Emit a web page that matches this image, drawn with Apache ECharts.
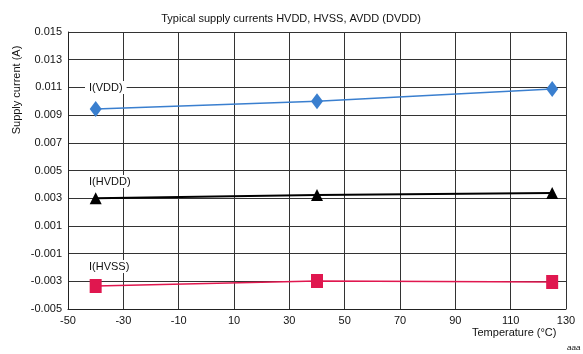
<!DOCTYPE html>
<html><head><meta charset="utf-8">
<script src="https://cdn.jsdelivr.net/npm/echarts@6/dist/echarts.min.js"></script>
<style>html,body{margin:0;padding:0;background:#fff}#c{width:583px;height:354px}</style>
</head><body><div id="c"></div>
<script>
const temps = [-40, 40, 125];
const iVDD = [0.00944, 0.0100, 0.01088];
const iHVDD = [0.0030, 0.00323, 0.00338];
const iHVSS = [-0.00334, -0.00298, -0.00305];
const font = 'Liberation Sans, Arial, sans-serif';
const pair = a => a.map((v,i)=>[temps[i], v]);
const chart = echarts.init(document.getElementById('c'));
chart.setOption({
  animation:false,
  title:{text:'Typical supply currents HVDD, HVSS, AVDD (DVDD)',left:286,top:8,textAlign:'center',
    textStyle:{fontFamily:font,fontSize:11,fontWeight:'normal',color:'#111'}},
  grid:{left:68,right:17,top:32,bottom:45},
  xAxis:{type:'value',min:-50,max:130,interval:20,
    axisLine:{onZero:false,lineStyle:{color:'#222'}},axisTick:{show:false},
    axisLabel:{fontFamily:font,fontSize:11,color:'#111',margin:6},
    splitLine:{lineStyle:{color:'#333',width:1}}},
  yAxis:{type:'value',min:-0.005,max:0.015,interval:0.002,
    axisLine:{show:true,onZero:false,lineStyle:{color:'#222'}},axisTick:{show:false},
    axisLabel:{fontFamily:font,fontSize:11,color:'#111',margin:6,formatter:v=>v.toFixed(3)},
    splitLine:{lineStyle:{color:'#333',width:1}}},
  graphic:[
    {type:'text',x:17,y:90,rotation:Math.PI/2,style:{text:'Supply current (A)',font:'11px '+font,fill:'#111',align:'center',verticalAlign:'middle'}},
    {type:'text',x:472,y:327,style:{text:'Temperature (°C)',font:'11px '+font,fill:'#111'}},
    {type:'text',x:567,y:344,style:{text:'aaa',font:'italic 8px '+font,fill:'#111'}},
    {type:'text',x:85,y:81,z:100,style:{text:'I(VDD)',font:'11px '+font,fill:'#111',backgroundColor:'#fff',padding:[1,4]}},
    {type:'text',x:85,y:175,z:100,style:{text:'I(HVDD)',font:'11px '+font,fill:'#111',backgroundColor:'#fff',padding:[1,4]}},
    {type:'text',x:85,y:260,z:100,style:{text:'I(HVSS)',font:'11px '+font,fill:'#111',backgroundColor:'#fff',padding:[1,4]}}
  ],
  series:[
    {type:'line',data:pair(iVDD),symbol:'diamond',symbolSize:[12,16],z:10,
      lineStyle:{color:'#3a7fcf',width:1.5},itemStyle:{color:'#3a7fcf'}},
    {type:'line',data:pair(iHVDD),symbol:'triangle',symbolSize:[12,12],z:10,
      lineStyle:{color:'#000',width:2},itemStyle:{color:'#000'}},
    {type:'line',data:pair(iHVSS),symbol:'rect',symbolSize:[12,14],z:10,
      lineStyle:{color:'#e0174f',width:1.5},itemStyle:{color:'#e0174f'}}
  ]
});
</script></body></html>
